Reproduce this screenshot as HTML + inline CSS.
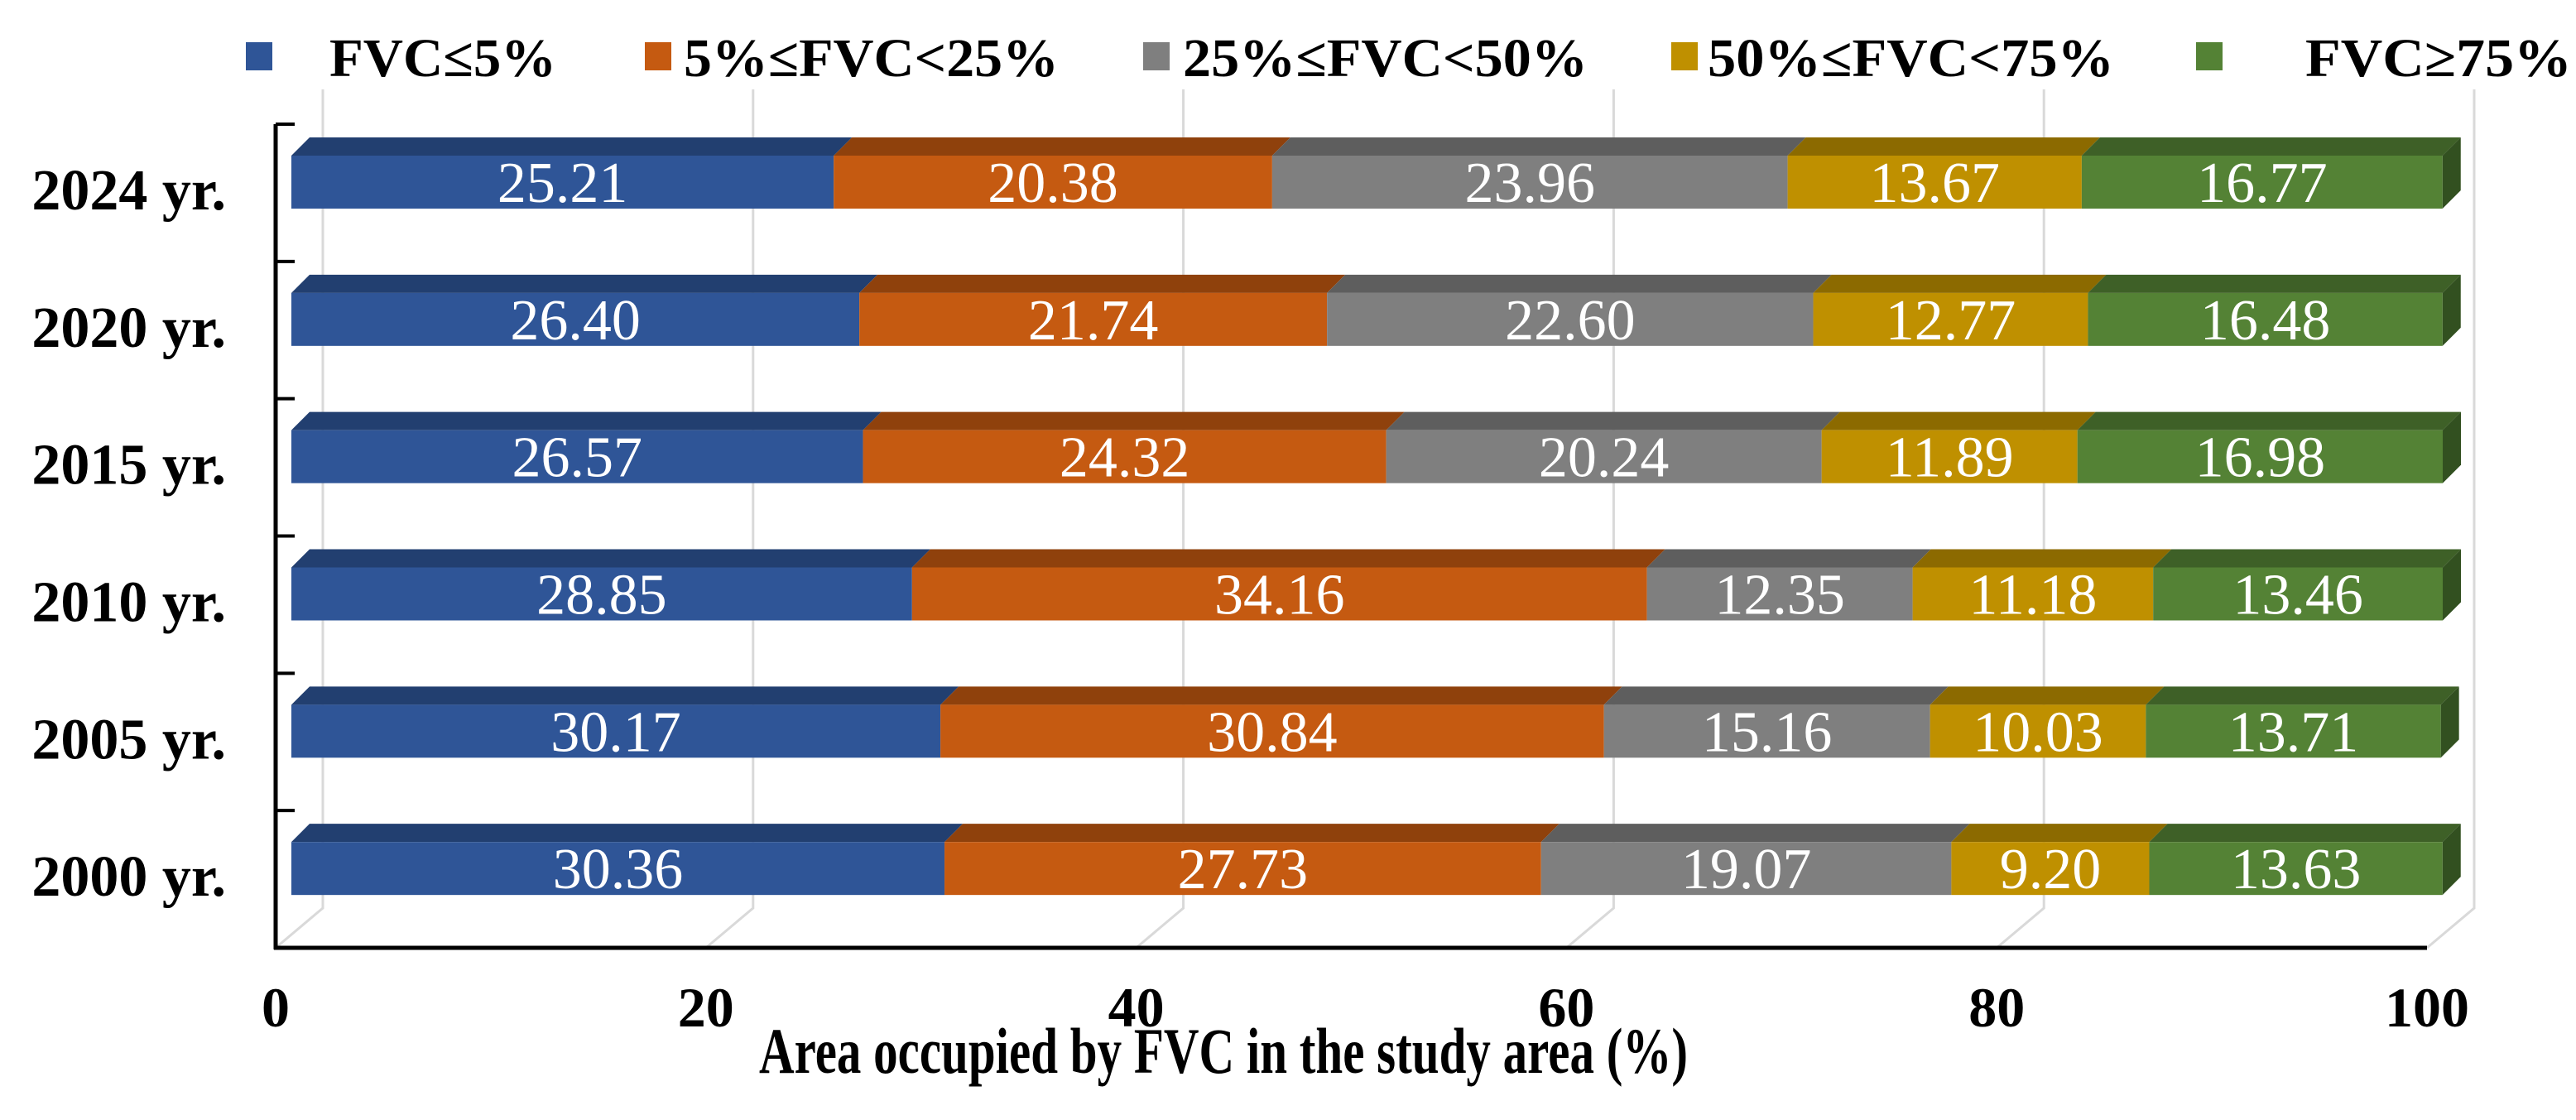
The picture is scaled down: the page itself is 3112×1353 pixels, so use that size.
<!DOCTYPE html>
<html><head><meta charset="utf-8"><style>
html,body{margin:0;padding:0;background:#fff;}
svg{display:block;}
svg text{font-family:"Liberation Serif","Times New Roman",serif;}
</style></head><body>
<svg id="chart" width="3112" height="1353" viewBox="0 0 3112 1353" xmlns="http://www.w3.org/2000/svg" font-family="Liberation Serif, serif">
<g id="grid"></g>
<g id="axes"></g>
<g id="bars"></g>
<g id="legend"></g>
<text x="1478" y="1296" font-family="Liberation Serif, serif" font-size="78" font-weight="bold" text-anchor="middle" textLength="1122" lengthAdjust="spacingAndGlyphs">Area occupied by FVC in the study area (%)</text>
</svg>
<script>
const categories = ["2024 yr.","2020 yr.","2015 yr.","2010 yr.","2005 yr.","2000 yr."];
const seriesNames = ["FVC≤5%","5%≤FVC<25%","25%≤FVC<50%","50%≤FVC<75%","FVC≥75%"];
const s1 = [25.21,26.40,26.57,28.85,30.17,30.36];
const s2 = [20.38,21.74,24.32,34.16,30.84,27.73];
const s3 = [23.96,22.60,20.24,12.35,15.16,19.07];
const s4 = [13.67,12.77,11.89,11.18,10.03,9.20];
const s5 = [16.77,16.48,16.98,13.46,13.71,13.63];
const xTicks = [0,20,40,60,80,100];
const series = [s1,s2,s3,s4,s5];
const front = ["#2F5597","#C55A11","#7F7F7F","#BF9000","#548235"];
const topC = ["#223F70","#8F410C","#5E5E5E","#8C6A00","#3E6027"];
const sideC = ["#1B3259","#733409","#4C4C4C","#705500","#325020"];
const NS="http://www.w3.org/2000/svg";
const FF="Liberation Serif, serif";
function mk(tag,attrs,parent){const e=document.createElementNS(NS,tag);for(const k in attrs)e.setAttribute(k,attrs[k]);parent.appendChild(e);return e;}
const X0=333,X1=2932,DX=57,DY=-48,YTOP=150,YBOT=1145;
function xf(v){return X0+(v/100)*(X1-X0);}
const band=(YBOT-YTOP)/categories.length;
function yb(i){return YTOP+i*band;}
const grid=document.getElementById('grid'),axes=document.getElementById('axes'),bars=document.getElementById('bars'),legend=document.getElementById('legend');
xTicks.forEach(t=>{
  const x=xf(t);
  const g=mk('polyline',{points:`${x},${YBOT} ${x+DX},${YBOT+DY} ${x+DX},108`,fill:'none',stroke:'#D9D9D9','stroke-width':3},grid);
  
  
  const lb=mk('text',{x:x,y:1240,'font-family':FF,'font-size':68,'font-weight':'bold','text-anchor':'middle'},axes);
  lb.textContent=t;
  
  
});
const ya=mk('line',{x1:X0,y1:YTOP,x2:X0,y2:YBOT+2,stroke:'#000','stroke-width':5},axes);


const xa=mk('line',{x1:X0-2,y1:YBOT,x2:X1,y2:YBOT,stroke:'#000','stroke-width':5},axes);


for(let i=0;i<=categories.length;i++){
  const tk=mk('line',{x1:X0,y1:yb(i),x2:X0+23,y2:yb(i),stroke:'#000','stroke-width':4},axes);
  
  
}
categories.forEach((c,i)=>{
  const t=mk('text',{x:273,y:yb(i)+band/2+20,'font-family':FF,'font-size':70,'font-weight':'bold','text-anchor':'end'},axes);
  t.textContent=c;
  
  
});
const BX=19, bdx=22, bdy=-22;
categories.forEach((c,i)=>{
  const top=yb(i)+38, bot=yb(i)+102;
  let cum=0;
  series.forEach((s,k)=>{
    const v=s[i];
    const xa_=xf(cum)+BX, xb=xf(cum+v)+BX;
    const g=mk('g',{},bars);
    
    
    mk('polygon',{points:`${xa_},${top} ${xa_+bdx},${top+bdy} ${xb+bdx},${top+bdy} ${xb},${top}`,fill:topC[k]},g);
    if(k===series.length-1){
      mk('polygon',{points:`${xb},${top} ${xb+bdx},${top+bdy} ${xb+bdx},${bot+bdy} ${xb},${bot}`,fill:sideC[k]},g);
    }
    mk('rect',{x:xa_,y:top,width:xb-xa_,height:bot-top,fill:front[k]},g);
    const t=mk('text',{x:(xa_+xb)/2,y:(top+bot)/2+24,'font-family':FF,'font-size':70,fill:'#fff','text-anchor':'middle'},g);
    t.textContent=v.toFixed(2);
    
    
    cum+=v;
  });
});
const legSq=[297,779,1381,2019,2653];
const legTx=[[398,274],[826,453],[1429,489],[2063,491],[2785,322]];
seriesNames.forEach((n,k)=>{
  const g=mk('g',{},legend);
  
  
  mk('rect',{x:legSq[k],y:51,width:32,height:34,fill:front[k]},g);
  const t=mk('text',{x:legTx[k][0],y:92,'font-family':FF,'font-size':66,'font-weight':'bold',textLength:legTx[k][1],lengthAdjust:'spacingAndGlyphs'},g);
  t.textContent=n;
});
</script>
</body></html>
